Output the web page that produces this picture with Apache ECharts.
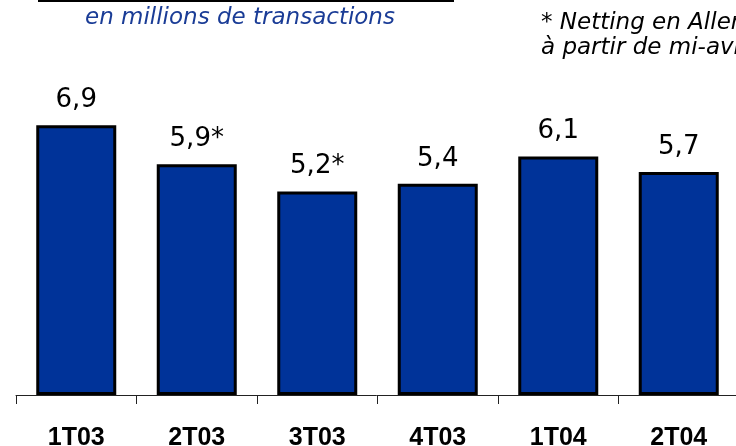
<!DOCTYPE html>
<html>
<head>
<meta charset="utf-8">
<script src="https://cdn.jsdelivr.net/npm/echarts@6/dist/echarts.min.js"></script>
<style>
  html, body { margin: 0; padding: 0; background: #fff; }
  #chart { width: 736px; height: 446px; }
</style>
</head>
<body>
<div id="chart"></div>
<script>
const categories = ['1T03', '2T03', '3T03', '4T03', '1T04', '2T04'];
const values = [6.9, 5.9, 5.2, 5.4, 6.1, 5.7];
const valueLabels = ['6,9', '5,9*', '5,2*', '5,4', '6,1', '5,7'];

const chart = echarts.init(document.getElementById('chart'));

const option = {
  animation: false,
  backgroundColor: '#fff',
  grid: {
    top: 43,
    bottom: 51,
    left: 16,
    right: -3,
    containLabel: false,
    outerBoundsMode: 'none'
  },
  xAxis: {
    type: 'category',
    data: categories,
    axisLine: { lineStyle: { color: '#222', width: 1 } },
    axisTick: { show: true, length: 9, lineStyle: { color: '#222', width: 1 } },
    axisLabel: {
      color: '#000',
      fontFamily: 'Liberation Sans',
      fontWeight: 'bold',
      fontSize: 25,
      margin: 31
    },
    splitLine: { show: false }
  },
  yAxis: {
    type: 'value',
    min: 0,
    max: 9,
    show: false
  },
  graphic: [
    {
      type: 'rect',
      shape: { x: 38, y: 0, width: 416, height: 2 },
      style: { fill: '#000' }
    },
    {
      type: 'text',
      left: 85,
      top: 7,
      style: {
        text: 'en millions de transactions',
        fill: '#1a3c96',
        font: 'italic 23px "DejaVu Sans"'
      }
    },
    {
      type: 'text',
      left: 541,
      top: 11,
      style: {
        text: '* Netting en Allemagne\nà partir de mi-avril',
        fill: '#000',
        font: 'italic 23px "DejaVu Sans"',
        lineHeight: 25
      }
    }
  ],
  series: [
    {
      type: 'bar',
      data: values,
      barWidth: 80,
      itemStyle: {
        color: '#003399',
        borderColor: '#000',
        borderWidth: 3
      },
      label: {
        show: true,
        position: 'top',
        distance: 12,
        color: '#000',
        fontFamily: 'DejaVu Sans',
        fontSize: 26,
        formatter: p => valueLabels[p.dataIndex]
      }
    }
  ]
};

chart.setOption(option);
</script>
</body>
</html>
